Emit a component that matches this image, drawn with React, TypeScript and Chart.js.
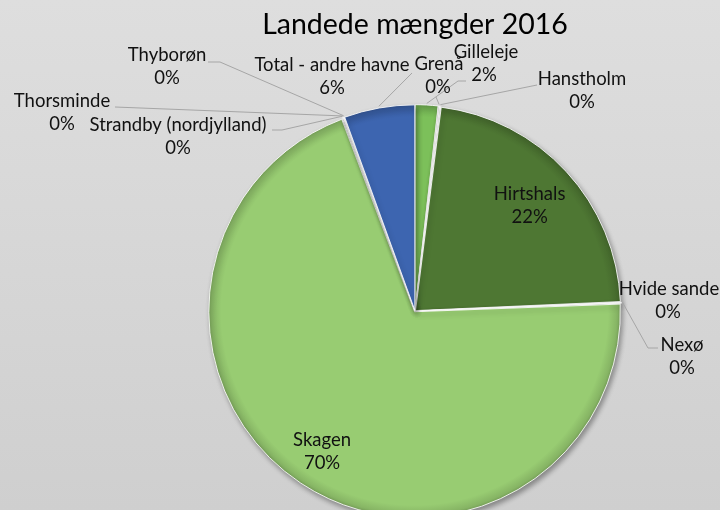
import React, { useEffect, useRef } from 'react';
import { Chart, registerables } from 'chart.js';

Chart.register(...registerables);

const TITLE = 'Landede mængder 2016';
const CATEGORIES = [
  'Gilleleje',
  'Grenå',
  'Hanstholm',
  'Hirtshals',
  'Hvide sande',
  'Nexø',
  'Skagen',
  'Strandby (nordjylland)',
  'Thorsminde',
  'Thyborøn',
  'Total - andre havne',
];
const VALUES = [1.8, 0.1, 0.1, 22.3, 0.05, 0.05, 69.85, 0.1, 0.05, 0.05, 5.55];
const COLORS = [
  '#7cc05a', '#b0b0b0', '#c8c8c8', '#4e7733', '#f4f4f4', '#e0e0e0',
  '#98cc72', '#c0c0c0', '#b8b8b8', '#a8a8a8', '#3d65b0',
];

const FONT = 'Lato';
const LABEL_SIZE = 18.5;
const LINE_GAP = 23;

// label placement (style only): 'in' labels follow the slice angle, 'out' labels are placed
type Lay = { mode: 'in' | 'out'; r?: number; x?: number; y?: number; px?: number; line?: number[][] };
const LABEL_LAYOUT: Lay[] = [
  { mode: 'out', x: 486, y: 52, px: 484, line: [[458, 81], [466, 81]] },
  { mode: 'out', x: 439, y: 64, px: 438, line: [[436, 97]] },
  { mode: 'out', x: 582, y: 79, line: [[537, 85]] },
  { mode: 'in', r: 0.76 },
  { mode: 'out', x: 669, y: 289, px: 668 },
  { mode: 'out', x: 682, y: 345, line: [[648, 348], [658, 348]] },
  { mode: 'in', r: 0.82 },
  { mode: 'out', x: 178, y: 125, line: [[282, 130], [272, 130]] },
  { mode: 'out', x: 62, y: 101, line: [[115, 107]] },
  { mode: 'out', x: 167, y: 55, line: [[220, 62], [208, 62]] },
  { mode: 'out', x: 332, y: 65, line: [[412, 73]] },
];

function shade(hex: string, f: number) {
  const n = parseInt(hex.slice(1), 16);
  const ch = [(n >> 16) & 255, (n >> 8) & 255, n & 255].map((c) =>
    Math.round(f < 0 ? c * (1 + f) : c + (255 - c) * f)
  );
  return `rgb(${ch[0]},${ch[1]},${ch[2]})`;
}

const bgPlugin = {
  id: 'bg',
  beforeDraw(chart: any) {
    const { ctx, width, height } = chart;
    ctx.save();
    const g = ctx.createLinearGradient(0, 0, 0, height);
    g.addColorStop(0, '#dedede');
    g.addColorStop(1, '#cfcfcf');
    ctx.fillStyle = g;
    ctx.fillRect(0, 0, width, height);
    ctx.restore();
  },
};

const labelPlugin = {
  id: 'pieLabels',
  beforeDatasetsDraw(chart: any) {
    const ctx = chart.ctx;
    ctx.save();
    ctx.shadowColor = 'rgba(0,0,0,0.35)';
    ctx.shadowBlur = 5;
    ctx.shadowOffsetX = 2;
    ctx.shadowOffsetY = 3;
  },
  afterDatasetsDraw(chart: any) {
    const ctx = chart.ctx;
    ctx.restore();
    const meta = chart.getDatasetMeta(0);
    const total = VALUES.reduce((a, b) => a + b, 0);
    ctx.save();
    ctx.font = `${LABEL_SIZE}px ${FONT}`;
    ctx.textAlign = 'center';
    ctx.textBaseline = 'middle';
    meta.data.forEach((arc: any, i: number) => {
      const p = arc.getProps(['x', 'y', 'startAngle', 'endAngle', 'outerRadius'], true);
      const off = arc.options.offset || 0;
      const mid = (p.startAngle + p.endAngle) / 2;
      const lay = LABEL_LAYOUT[i];
      const name = CATEGORIES[i];
      const pct = Math.round((VALUES[i] / total) * 100) + '%';
      ctx.fillStyle = '#111111';
      if (lay.mode === 'in') {
        const rr = p.outerRadius * (lay.r || 0.7);
        const lx = p.x + Math.cos(mid) * rr;
        const ly = p.y + Math.sin(mid) * rr;
        ctx.fillText(name, lx, ly - LINE_GAP / 2);
        ctx.fillText(pct, lx, ly + LINE_GAP / 2);
      } else {
        if (lay.line) {
          const rim = p.outerRadius + off;
          ctx.strokeStyle = '#a6a6a6';
          ctx.lineWidth = 1;
          ctx.beginPath();
          ctx.moveTo(p.x + Math.cos(mid) * rim, p.y + Math.sin(mid) * rim);
          lay.line.forEach((pt) => ctx.lineTo(pt[0], pt[1]));
          ctx.stroke();
        }
        ctx.fillText(name, lay.x!, lay.y!);
        ctx.fillText(pct, lay.px ?? lay.x!, lay.y! + LINE_GAP);
      }
    });
    ctx.restore();
  },
};

export default function App() {
  const ref = useRef<HTMLCanvasElement>(null);
  useEffect(() => {
    if (!ref.current) return;
    const chart = new Chart(ref.current, {
      type: 'pie',
      data: {
        labels: CATEGORIES,
        datasets: [
          {
            data: VALUES,
            radius: 205,
            offset: 3,
            clip: false,
            borderWidth: 1,
            borderColor: 'rgba(255,255,255,0.85)',
            backgroundColor: (c: any) => {
              const base = COLORS[c.dataIndex] || '#999999';
              const area = c.chart.chartArea;
              if (!area) return base;
              const cx = (area.left + area.right) / 2;
              const cy = (area.top + area.bottom) / 2;
              const g = c.chart.ctx.createRadialGradient(cx, cy, 0, cx, cy, 208);
              g.addColorStop(0, base);
              g.addColorStop(0.93, base);
              g.addColorStop(0.975, shade(base, -0.12));
              g.addColorStop(1, shade(base, -0.3));
              return g;
            },
          } as any,
        ],
      },
      options: {
        animation: false,
        responsive: false,
        rotation: 0,
        layout: { padding: { left: 110, right: 0, top: 0, bottom: 0 } },
        plugins: {
          legend: { display: false },
          tooltip: { enabled: false },
          title: {
            display: true,
            text: TITLE,
            color: '#000000',
            font: { family: FONT, size: 28.5, weight: 'normal' as any, lineHeight: 1.2 },
            padding: { top: 8, bottom: 70 },
          },
        },
      },
      plugins: [bgPlugin, labelPlugin],
    });
    return () => chart.destroy();
  }, []);
  return (
    <div style={{ position: 'fixed', left: 0, top: 0, width: 720, height: 510, overflow: 'hidden' }}>
      <canvas ref={ref} width={720} height={510} style={{ width: 720, height: 510, display: 'block' }} />
    </div>
  );
}
